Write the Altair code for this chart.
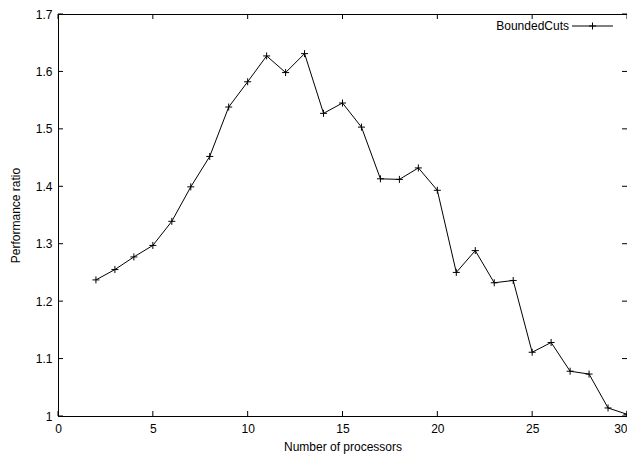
import altair as alt
import pandas as pd

# Data
processors = list(range(2, 31))
ratio = [1.237, 1.255, 1.277, 1.297, 1.339, 1.399, 1.452, 1.538, 1.582, 1.627,
         1.598, 1.631, 1.527, 1.545, 1.503, 1.413, 1.412, 1.432, 1.393, 1.250,
         1.288, 1.232, 1.236, 1.111, 1.128, 1.078, 1.073, 1.014, 1.003]
series_name = "BoundedCuts"
x_ticks = [0, 5, 10, 15, 20, 25, 30]
y_ticks = [1.0, 1.1, 1.2, 1.3, 1.4, 1.5, 1.6, 1.7]

W, H = 569, 402
FONT = "Liberation Sans"
FS = 12
TICK = 5

df = pd.DataFrame({"x": processors, "y": ratio})
xt = pd.DataFrame({"t": x_ticks})
yt = pd.DataFrame({"t": y_ticks})

xscale = alt.Scale(domain=[0, 30], nice=False, zero=False)
yscale = alt.Scale(domain=[1.0, 1.7], nice=False, zero=False)

x_axis = alt.Axis(values=x_ticks, ticks=False, tickSize=0, grid=False, labelPadding=7,
                  title="Number of processors", titleFontWeight="normal",
                  titleY=34, titleBaseline="alphabetic", labelFlush=False,
                  labelAlign=alt.ExprRef(expr="datum.value >= 30 ? 'right' : 'center'"),
                  domainColor="black", labelColor="black", titleColor="black")
y_axis = alt.Axis(values=y_ticks, ticks=False, tickSize=0, grid=False, labelPadding=6,
                  title="Performance ratio", titleFontWeight="normal",
                  titleX=-43, titleY=H / 2, titleAngle=-90, titleBaseline="middle",
                  titleAlign="center", labelFlush=False,
                  format="~g",
                  domainColor="black", labelColor="black", titleColor="black")

base = alt.Chart(df)
line = base.mark_line(color="black", strokeWidth=1, clip=True).encode(
    x=alt.X("x:Q", scale=xscale, axis=x_axis),
    y=alt.Y("y:Q", scale=yscale, axis=y_axis),
)
pts = base.mark_point(shape="M-1,0L1,0M0,-1L0,1", size=49, filled=False,
                      color="black", strokeWidth=1, opacity=1, clip=True).encode(
    x=alt.X("x:Q", scale=xscale),
    y=alt.Y("y:Q", scale=yscale),
)

bottom_ticks = alt.Chart(xt).mark_rule(color="black", strokeWidth=1).encode(
    x=alt.X("t:Q", scale=xscale), y=alt.value(H), y2=alt.value(H - TICK))
top_ticks = alt.Chart(xt).mark_rule(color="black", strokeWidth=1).encode(
    x=alt.X("t:Q", scale=xscale), y=alt.value(0), y2=alt.value(TICK))
left_ticks = alt.Chart(yt).mark_rule(color="black", strokeWidth=1).encode(
    y=alt.Y("t:Q", scale=yscale), x=alt.value(0), x2=alt.value(TICK))
right_ticks = alt.Chart(yt).mark_rule(color="black", strokeWidth=1).encode(
    y=alt.Y("t:Q", scale=yscale), x=alt.value(W), x2=alt.value(W - TICK))

leg_df = pd.DataFrame({"name": [series_name]})
leg_text = alt.Chart(leg_df).mark_text(align="right", baseline="middle", font=FONT,
                                       fontSize=FS, color="black").encode(
    text="name:N", x=alt.value(W - 58), y=alt.value(12))
leg_line = alt.Chart(leg_df).mark_rule(color="black", strokeWidth=1).encode(
    x=alt.value(W - 55), x2=alt.value(W - 14), y=alt.value(12))
leg_pt = alt.Chart(leg_df).mark_point(shape="M-1,0L1,0M0,-1L0,1", size=49, filled=False,
                                      color="black", strokeWidth=1, opacity=1).encode(
    x=alt.value(W - 34.5), y=alt.value(12))

chart = alt.layer(line, pts, bottom_ticks, top_ticks, left_ticks, right_ticks,
                  leg_text, leg_line, leg_pt).properties(
    width=W, height=H,
    autosize=alt.AutoSizeParams(type="none"),
    padding={"left": 50, "top": 6, "right": 0, "bottom": 38},
    background="white",
).configure_view(stroke="black", strokeWidth=1).configure_axis(
    labelFont=FONT, titleFont=FONT, labelFontSize=FS, titleFontSize=FS,
    domainWidth=1,
)

chart.save("out.html", embed_options={"renderer": "svg", "actions": False})
